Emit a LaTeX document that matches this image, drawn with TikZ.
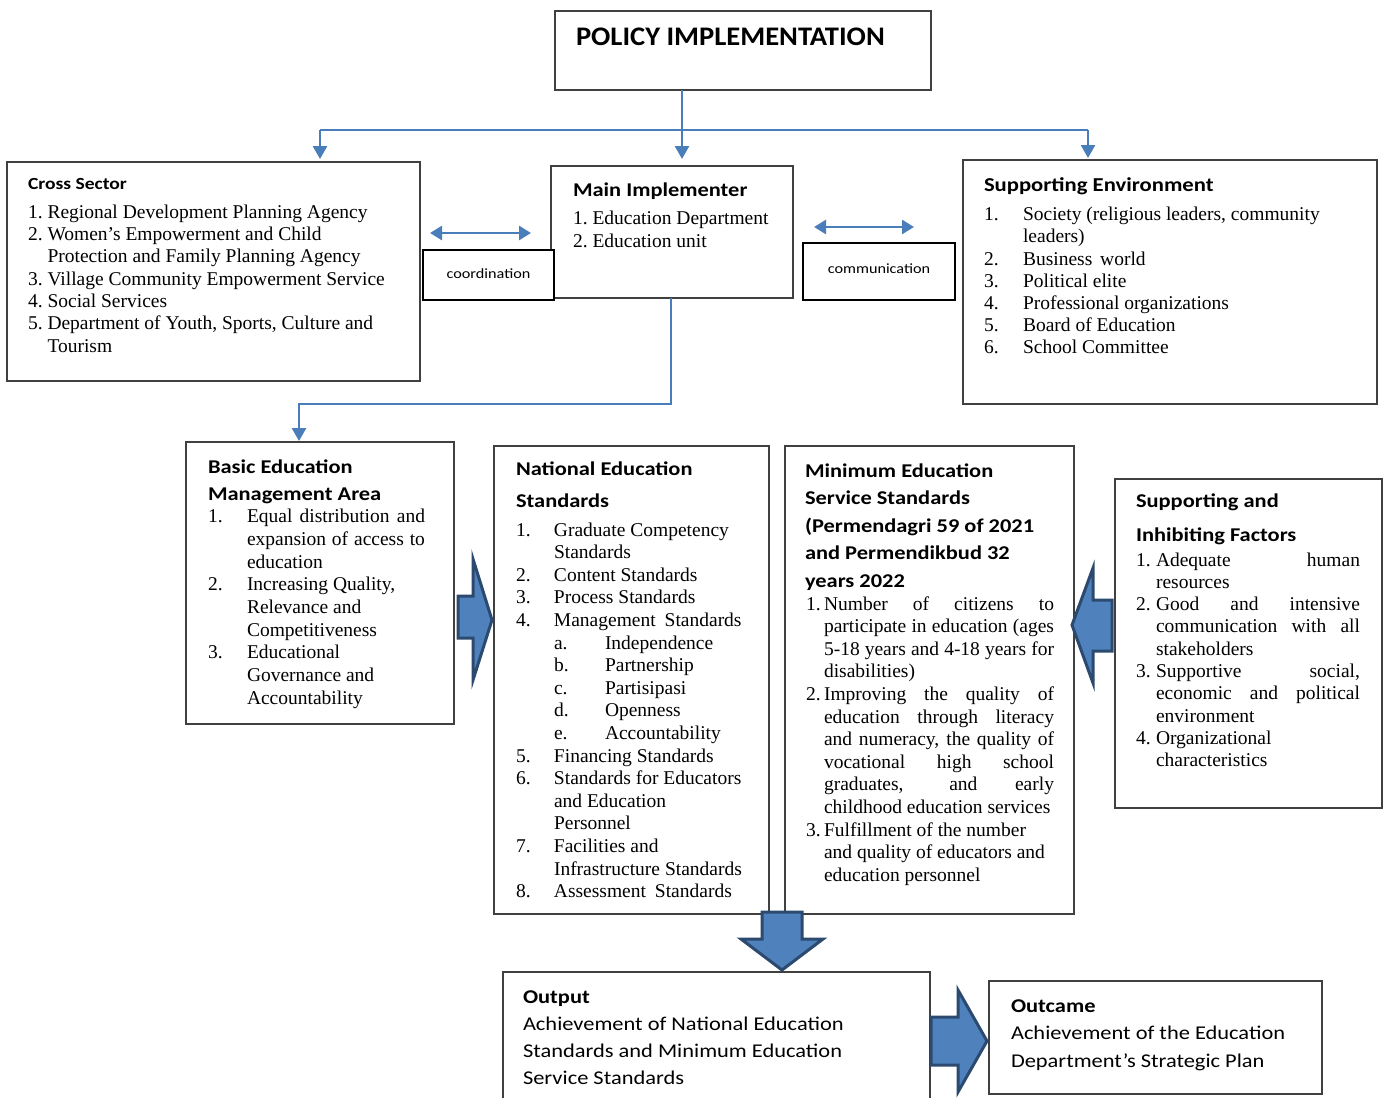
\documentclass[tikz,border=0pt]{standalone}
\usepackage{fontspec}
\setmainfont{Liberation Serif}
\newfontfamily\hsf[FakeStretch=1.15]{Carlito}
\newfontfamily\hnf[FakeStretch=1.065]{Carlito}
\usetikzlibrary{arrows.meta,fit}
\definecolor{connc}{HTML}{4A7EBB}
\definecolor{bafill}{HTML}{4F81BD}
\definecolor{badraw}{HTML}{2C4A70}
\definecolor{boxc}{HTML}{404040}
\newlength\IND
\newcommand\litem[2]{\par\hangindent=\IND\hangafter=1\noindent\makebox[\IND][l]{#1}#2\par}
\newcommand\lsub[2]{\par\hangindent=89pt\hangafter=1\noindent\hspace*{38pt}\makebox[51pt][l]{#1}#2\par}
\newenvironment{blist}[3]{\begin{minipage}[t]{#1}\fontsize{19.5}{#3}\selectfont\tolerance=10000\hyphenpenalty=10000\parindent=0pt\parskip=0pt\setlength\IND{#2}}{\end{minipage}}
\newcommand\hdg[1]{{\hsf\bfseries\fontsize{19.5}{27}\selectfont #1}}
\newcommand\hdm[3]{\begin{minipage}[t]{320pt}\hsf\bfseries\fontsize{#1}{#2}\selectfont #3\end{minipage}}
\begin{document}
\begin{tikzpicture}[x=1pt,y=-1pt,
 box/.style={draw=boxc, line width=1.2pt, fill=white, inner sep=0pt, outer sep=0pt},
 tbox/.style={draw=black, line width=2.6pt, fill=white, inner sep=0pt, outer sep=0pt},
 txt/.style={inner sep=0pt, outer sep=0pt, anchor=base west},
 cl/.style={draw=connc, line width=2.6pt},
 tipend/.style={-{Triangle[width=14pt,length=13pt]}},
 dtip/.style={{Triangle[width=14pt,length=12pt]}-{Triangle[width=14pt,length=12pt]}},
 barrow/.style={fill=bafill, draw=badraw, line width=3pt, line join=miter}]
\useasboundingbox (0,0) rectangle (1388,1097);
\clip (0,0) rectangle (1388,1097);
\fill[white] (0,0) rectangle (1388,1097);

% boxes
\node[box, fit={(555,11) (931,90)}] (policy) {};
\node[box, fit={(7,162) (420,381)}] (cross) {};
\node[box, fit={(551,166) (793,298)}] (mainimp) {};
\node[box, fit={(963,160) (1377,404)}] (suppenv) {};
\node[box, fit={(186,442) (454,724)}] (basic) {};
\node[box, fit={(494,446) (769,914)}] (national) {};
\node[box, fit={(785,446) (1074,914)}] (minimum) {};
\node[box, fit={(1115,479) (1382,808)}] (suppinh) {};
\node[box, fit={(503,972) (930,1130)}] (output) {};
\node[box, fit={(989,981) (1322,1094)}] (outcome) {};
\node[tbox, fit={(423,250) (554,300)}] (coord) {};
\node[tbox, fit={(803,243) (955,300)}] (comm) {};

% texts
\node[txt] (tpol) at (576,46) {\hnf\bfseries\fontsize{26.8}{30}\selectfont POLICY IMPLEMENTATION};

\node[txt] (tcross) at (28,189) {\hsf\bfseries\fontsize{17}{20}\selectfont Cross Sector};
\node[txt] (lcross) at (28,218) {\begin{blist}{390pt}{19.5pt}{22.35}
\litem{1.}{Regional Development Planning Agency}
\litem{2.}{Women’s Empowerment and Child\newline Protection and Family Planning Agency}
\litem{3.}{Village Community Empowerment Service}
\litem{4.}{Social Services}
\litem{5.}{Department of Youth, Sports, Culture and\newline Tourism}
\end{blist}};

\node[txt] (tmain) at (573,196) {\hdg{Main Implementer}};
\node[txt] (lmain) at (573,224) {\begin{blist}{215pt}{19.5pt}{23}
\litem{1.}{Education Department}
\litem{2.}{Education unit}
\end{blist}};

\node[txt, anchor=base] (tcoord) at (488.5,278) {\hsf\fontsize{14.1}{16}\selectfont coordination};
\node[txt, anchor=base] (tcomm) at (879,273) {\hsf\fontsize{14.1}{16}\selectfont communication};

\node[txt] (tsenv) at (984,191) {\hsf\bfseries\fontsize{19.7}{22}\selectfont Supporting Environment};
\node[txt] (lsenv) at (984,220.7) {\begin{blist}{385pt}{39pt}{22.2}
\litem{1.}{Society (religious leaders, community\newline leaders)}
\litem{2.}{Business\hspace{3pt} world}
\litem{3.}{Political elite}
\litem{4.}{Professional organizations}
\litem{5.}{Board of Education}
\litem{6.}{School Committee}
\end{blist}};

\node[txt] (tbasic) at (208,473) {\hdm{19.5}{27}{Basic Education\\Management Area}};
\node[txt] (lbasic) at (208,522.7) {\begin{blist}{217pt}{39pt}{22.7}
\litem{1.}{Equal distribution and\linebreak expansion of access to\linebreak education}
\litem{2.}{Increasing Quality,\newline Relevance and\newline Competitiveness}
\litem{3.}{Educational\newline Governance and\newline Accountability}
\end{blist}};

\node[txt] (tnat) at (516,475) {\hdm{19.5}{32}{National Education\\Standards}};
\node[txt] (lnat) at (516,536) {\begin{blist}{245pt}{38pt}{22.6}
\litem{1.}{Graduate Competency\newline Standards}
\litem{2.}{Content Standards}
\litem{3.}{Process Standards}
\litem{4.}{Management\hspace{4pt} Standards}
\lsub{a.}{Independence}
\lsub{b.}{Partnership}
\lsub{c.}{Partisipasi}
\lsub{d.}{Openness}
\lsub{e.}{Accountability}
\litem{5.}{Financing Standards}
\litem{6.}{Standards for Educators\newline and Education\newline Personnel}
\litem{7.}{Facilities and\newline Infrastructure Standards}
\litem{8.}{Assessment\hspace{4pt} Standards}
\end{blist}};

\node[txt] (tmin) at (805,477) {\hdm{19.5}{27.5}{Minimum Education\\Service Standards\\(Permendagri 59 of 2021\\and Permendikbud 32\\years 2022}};
\node[txt] (lmin) at (806,610) {\begin{blist}{248pt}{18pt}{22.6}
\litem{1.}{Number of citizens to\linebreak participate in education (ages\linebreak 5-18 years and 4-18 years for\linebreak disabilities)}
\litem{2.}{Improving the quality of\linebreak education through literacy\linebreak and numeracy, the quality of\linebreak vocational high school\linebreak graduates, and early\linebreak childhood education services}
\litem{3.}{Fulfillment of the number\newline and quality of educators and\newline education personnel}
\end{blist}};

\node[txt] (tsinh) at (1136,507) {\hdm{19.5}{34}{Supporting and\\Inhibiting Factors}};
\node[txt] (lsinh) at (1136,566) {\begin{blist}{224pt}{20pt}{22.3}
\litem{1.}{Adequate human\linebreak resources}
\litem{2.}{Good and intensive\linebreak communication with all\linebreak stakeholders}
\litem{3.}{Supportive social,\linebreak economic and political\linebreak environment}
\litem{4.}{Organizational\newline characteristics}
\end{blist}};

\node[txt] (tout) at (523,1003) {\begin{minipage}[t]{400pt}\hsf\fontsize{19.5}{27.3}\selectfont {\bfseries Output}\\Achievement of National Education\\Standards and Minimum Education\\Service Standards\end{minipage}};
\node[txt] (toutc) at (1011,1012) {\begin{minipage}[t]{300pt}\hsf\fontsize{19.5}{27.5}\selectfont {\bfseries Outcame}\\Achievement of the Education\\Department’s Strategic Plan\end{minipage}};

% connectors
\coordinate (jc) at (682,130);
\coordinate (jl) at (320,130);
\coordinate (jr) at (1088,130);
\draw[cl] (jl) -- (jr);
\draw[cl, tipend, shorten >=7pt] (jc |- policy.south) -- (jc |- mainimp.north);
\draw[cl, tipend, shorten >=3pt] (jl) -- (jl |- cross.north);
\draw[cl, tipend, shorten >=2pt] (jr) -- (jr |- suppenv.north);
\coordinate (m1) at (671,404);
\coordinate (m2) at (299,404);
\draw[cl, tipend, shorten >=1pt] (m1 |- mainimp.south) -- (m1) -- (m2) -- (m2 |- basic.north);
\coordinate (ca1) at (430,233);
\coordinate (ca2) at (531,233);
\draw[cl, dtip] (ca1) -- (ca2);
\coordinate (cb1) at (814,227);
\coordinate (cb2) at (914,227);
\draw[cl, dtip] (cb1) -- (cb2);

% block arrows
\draw[barrow] (458,596) -- (473,596) -- (473,559) -- (492,620) -- (473,680) -- (473,638) -- (458,638) -- cycle;
\draw[barrow] (1112,600) -- (1093,600) -- (1093,568) -- (1072,625) -- (1093,683) -- (1093,651) -- (1112,651) -- cycle;
\draw[barrow] (762,912) -- (802,912) -- (802,939) -- (823,939) -- (782,970) -- (741,939) -- (762,939) -- cycle;
\draw[barrow] (931,1017) -- (958,1017) -- (958,990) -- (987,1041) -- (958,1092) -- (958,1065) -- (931,1065) -- cycle;
\end{tikzpicture}
\end{document}
